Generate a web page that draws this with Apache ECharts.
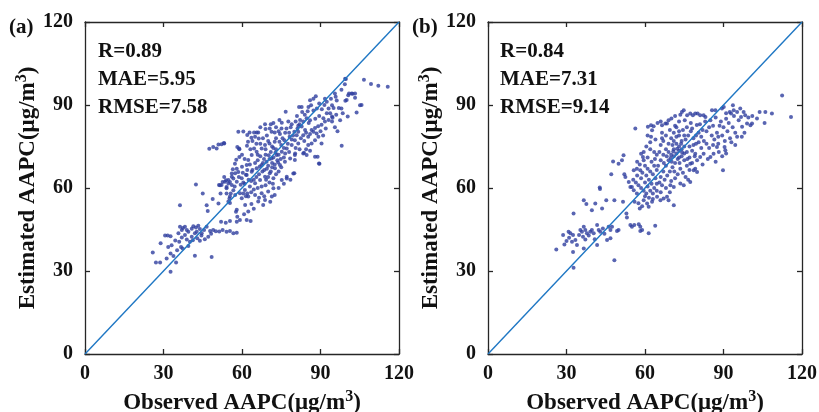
<!DOCTYPE html>
<html><head><meta charset="utf-8">
<script src="https://cdn.jsdelivr.net/npm/echarts@6/dist/echarts.min.js"></script>
<style>html,body{margin:0;padding:0;background:#fff}#c{width:819px;height:412px}</style>
</head><body><div id="c"></div>
<script>
var axisTicks = [0, 30, 60, 90, 120];
var panelLabels = ['(a)', '(b)'];
var statsA = ['R=0.89', 'MAE=5.95', 'RMSE=7.58'];
var statsB = ['R=0.84', 'MAE=7.31', 'RMSE=9.14'];
var xTitle = 'Observed AAPC(μg/m{s|3})';
var yTitle = 'Estimated AAPC(μg/m{s|3})';
var refLine = [[0, 0], [120, 120]];

var scatterA = [
[25.9,36.7],[27.1,33.1],[28.7,33.1],[28.9,40],[30.6,42.8],[31.6,42.8],[32.7,42.6],[31.2,34.5],[32.7,29.7],[31.8,38.7],[33.1,39.3],[32.7,36.3],[33.8,35.4],[34.8,33.1],[36.3,53.8],[36.3,46],[37.4,45.5],[38.2,46],[38.9,44.8],[37,44.8],[35.7,43.6],[37,42.1],[36,40.6],[36.7,38.7],[37.3,38.1],[38.2,43],[39.5,44.2],[38.9,41.4],[40.1,40.6],[39.5,39],[40.8,42.4],[41.4,46.2],[42.4,45.7],[43.3,46.4],[43.9,45.2],[42,43.6],[42.9,41.8],[43.9,40.9],[42.7,44.2],[44.6,43.6],[45.5,44.8],[46.5,46],[42,35.5],[45,58],[42.4,61.3],[46.5,53.8],[46.9,51.7],[48.8,56],[47.8,44.5],[49,44.8],[50,44.4],[47.1,42.4],[48.4,35.1],[47.5,74.2],[49,74.8],[40.8,45.3],[34.5,41],[35.2,37.5],[44.5,42.8],[45.8,41.5],[48.2,43.5],[41.2,41.1],
[51.3,44.3],[52.6,44.8],[54.1,44.2],[55.4,44.5],[56.7,43.6],[58,43.8],[52,47.8],[53.8,47.4],[55.4,48.1],[51,75.7],[52.2,75.8],[53.1,76.3],[51,54.4],[51.6,61],[52.6,62.2],[53.2,64],[53.9,62.8],[54.8,61.6],[54.1,60.4],[51.8,58],[55.4,62.2],[56.7,63.4],[56.1,65.2],[54.1,58],[55.2,56.2],[55.7,58],[56.7,59.2],[55.4,54.6],[57.3,68.8],[58,67],[58.6,65.8],[58.2,74.8],[59,74],[57.7,51.4],[58.2,49.6],[58,47.8],[59.2,48.4],[59,71.2],[58.6,80.3],[54.8,55.1],[51.2,61.1],[52.2,61.1],[53.5,62.3],[54.1,59.9],[56.1,61.1],[58,62.3],[57.4,65.3],[56.1,64.1],[54.8,62.9],[57.4,57.5],[55.4,56.9],[58,52.1],[59.2,58.1],[59.9,56.3],[53.2,76.1],[50.3,74.3],[58.9,74.3],[57.2,60.5],[59.5,61.2],[58.8,64],[56.5,66.8],[57.8,70.2],
[61.8,48.4],[63.3,48.1],[62.9,80.1],[63.6,78.2],[62.3,76.7],[61.9,75.3],[64.6,80.1],[65.6,80.1],[66.2,80.1],[68.8,83],[69,81.3],[64.6,74.3],[66.4,77.9],[70.6,81.5],[71.3,80.3],[72.5,80.1],[75.1,81.5],[74.3,84.6],[75.2,83.6],[76.7,87.6],[70.5,76.1],[68.8,75.5],[67.5,74.3],[65.6,73.1],[63.7,71.9],[62.4,70.1],[61.8,68.3],[60,67.7],[59.9,63.5],[61.8,64.7],[63.7,65.9],[65.6,67.1],[67.5,68.3],[69.4,69.5],[71.3,70.7],[73.2,71.9],[75.2,73.1],[77.1,74.3],[79,75.5],[80.3,72.5],[78.4,70.7],[76.4,69.5],[74.5,68.3],[72.6,67.1],[70.6,65.3],[68.8,64.1],[66.9,62.9],[65,61.7],[63,60.5],[61.1,59.3],[62.4,56.9],[65,57.5],[67.5,58.1],[70,58.7],[72,59.9],[66.2,55.1],[68.1,53.9],[68.8,55.7],[71.4,56.9],[80,65.3],[75.2,62.9],[77.1,64.1],[61.2,53.9],[62.4,51.5],[72.5,76.7],[74.3,76.7],[76.2,77.3],[78.2,78.5],[80,80.3],[78.6,82],[77.7,84],
[66,70],[67,71.5],[68,69],[69,72],[70,68],[70.5,70.5],[71,73],[71.5,69],[72,71],[72.5,68.5],[73,74],[73.5,70],[74,72],[68.5,66.5],[69.5,67],[70,64],[71,66],[72,63.5],[73,65],[74,66],[75,67.5],[76,71],[76.5,72.5],[77.5,76],[78,73],[79,77.5],[66.5,65],[65.5,64],[64.5,63],[63.5,62.5],[62.5,63],[61,61.5],[60.5,62],[64,66.5],[65,69],[66,72],[67,76],[68,78],[69.5,79],[70,77],[71.5,75],[73,78],[74.5,79.5],[75.5,78],[76.5,80],[78,80],[79.5,79],[67.5,60.5],[69,61],[70.5,62],[71.8,61.5],[60.5,58],[61.5,57],[63.5,58.5],[64.5,59.5],[66,60],[62,66.5],[63,68.5],[61,70.5],[60,72],[65.5,76],[64,77],[69,74],[72,74.5],[75,75.5],[76,74.5],[74,80.5],[73,82],[72,83.5],[71,83],[67,82],[77,81.5],[79,83],[80.5,84],[81.5,82.5],[60.3,65.5],[63.2,74],[66.8,67.8],[67.8,66],[70.2,71.8],[68.4,70.5],[73.8,69.2],[74.8,70.5],[69.2,63],[71.5,67.5],[72.8,72.8],[65,78.5],[62,79.2],[60.5,80.4],[63.6,54.2],[66.5,56.5],[70.8,55],[72.5,57.5],[74,60],[76,61.5],[78.5,63],[68.5,57],[64.5,52.5],[60.8,50.5],[62,58],[61.5,64.8],
[106.6,99.1],[109.3,97.6],[112.1,97],[115.7,96.6],[99.7,99.4],[99.3,97.5],[100.9,94.2],[101.9,94.2],[103.2,94.2],[103.2,92.6],[100,91.8],[105.7,90],[103.8,87.3],[100.4,85.8],[98.1,75.3],[95.5,94.2],[95.8,93],[96.2,91.6],[94,92.3],[92.4,91.2],[91.7,92.3],[88.2,93.2],[87.3,92.3],[86,91.7],[86.4,89.9],[85.4,89.3],[82.8,89.3],[81.8,89.3],[85.1,87.7],[87.3,88],[88.6,88.7],[94.4,89.9],[95,88.9],[97,88.9],[98,88.7],[93.1,88.7],[92.4,87],[93.7,87],[94.4,85.8],[93.1,84.6],[94.4,84],[94.6,85.4],[91.1,85.2],[91.7,84],[90.4,82.9],[89.1,82.3],[87.9,81.7],[86.6,81],[84.7,85.2],[83.4,84],[82.2,84.6],[82.8,82.2],[84.1,81],[81.5,80.3],[80.9,79.1],[83.4,79.1],[85.3,78.5],[87.3,80.3],[88.5,79.7],[89.2,78.5],[87.9,77.3],[86.6,76.1],[85.3,75.5],[81.5,76.1],[80.2,77.3],[90.4,76.1],[83.4,72.5],[84.7,71.9],[87.9,71.3],[88.9,71.3],[89.4,68.9],[80.2,71.9],[80.2,70.1],[89.6,68.8],[83.7,72.7],[79.6,65.2],[77.1,63.4],[99.4,99.5],[100.6,93.5],[102.3,94.1],[105.1,89.9],[89.5,90.5],[90.5,88.5],[91.5,90],[84,86.5],[83,87.5],[81,86],[82,83],[85.5,83.5],[86,84.5],[88,85],[89.5,86],[90,80.5],[92,81.5],[91,79],[84.5,80],[82.5,78],[86,79.5],[81.2,81.5],[83.8,77],[80.5,74.5],[82,74],[84.5,74],[86,73.5],[96,86.5],[97.5,84.5],[98.5,87],[95.5,82],[96.5,80.5],[99.5,91.5],[98,95.5]
];

var scatterB = [
[26.1,37.8],[28.7,43],[29.2,39.6],[30.8,44.2],[31.5,43.6],[32.5,43],[32.7,50.8],[32.7,31.2],[32.5,36.9],[33.4,41.2],[34,39.4],[32.1,40.6],[35.3,44.8],[35.9,44.2],[36.3,42.4],[37.2,44.8],[37.8,43.6],[36.6,46],[36.6,55.6],[37.6,54.2],[37.2,41.4],[36.6,38.1],[39.1,44.2],[39.7,44.8],[40.4,43.6],[39.7,52],[41,54.4],[42.7,60.2],[42.8,59.6],[41.7,46.6],[42.3,44.8],[42.9,44.2],[43.9,45.4],[41.7,39.4],[43.6,52.6],[45.2,55.6],[45.5,41.2],[46.8,41.8],[46.1,46],[46.8,44.8],[47.4,46],[47.1,65],[47.8,69.6],[48.3,55.6],[48.3,33.9],[49.3,44.5],[49.9,44.8],[49.9,68.8],[51.2,70],[51.6,55],[51.8,71.8],[52.1,65],[52.5,64],[52.9,50.8],[53.1,49.3],[53.8,62.2],[54.4,60.4],[54.4,46.6],[34.8,43],[38.5,42.8],[40.8,41.5],[44.5,43.5],[31,42],[30,40.8],
[55,46],[55.9,46.6],[57.6,46.9],[58.2,46],[58.9,44.8],[58.2,44.5],[61.4,43.6],[63.9,46.4],[55.7,66.4],[56.9,67],[58.2,66.4],[56.3,81.5],[55,60.4],[55.7,59.2],[56.9,58],[58.5,72.4],[59.5,73],[59.2,71.2],[61.1,82.1],[62.3,82.7],[62.7,80.9],[63.3,82.3],[62.3,78.5],[59.5,55.6],[60.8,54.4],[61.4,53.2],[58,52.6],[58.9,53.4],[62.7,55],[64.6,56.8],[55.5,63],[56.5,62],[57.5,61],[58.5,60],[59.5,59],[60.5,58],[57,64.5],[58.5,63.5],[60,62],[61,60.5],[62,59],[63,58],[59,65.5],[60.5,64.5],[61.5,63],[62.5,61.5],[63.5,60],[64.5,59],[60,68],[61,67],[62,66],[63,65],[64,63.5],[59.5,70],[61,71],[62.5,69.5],[63.5,68],[64.5,66.5],[60.5,75],[62,74],[63.5,73],[64.5,72],[58,68.5],[57,69.5],[60,57],[61.5,56.5],[63,56],[64.5,61.5],[56,55],[57.5,54.5],[62,76.5],[64,77.5],[61,79],[63.8,70.5],
[66.5,82.7],[67.8,83.3],[68.4,83.3],[70.1,85.1],[65.9,55.6],[67.1,56.2],[68.4,56.8],[69,55.6],[71,53.8],[69.7,61],[71,60.4],[74.8,61],[73.5,61.6],[77.3,62.2],[77.3,68.8],[78.6,66.4],[79.9,65.8],[79.2,67],[74.1,87.5],[74.8,88.1],[76.1,86.3],[77.3,86.9],[78.3,86.3],[79.2,86.9],
[65,68],[66,70],[67,72],[68,74],[69,76],[70,78],[71,80],[72,82],[73,79],[74,77],[75,75],[76,73],[77,71],[78,69],[66,64],[67,66],[68,68],[69,70],[70,72],[71,74],[72,76],[73,73.5],[74,71.5],[75,70],[76,68],[77,66.5],[65.5,62],[66.5,61],[67.5,63],[68.5,64.5],[69.5,66],[70.5,67.5],[71.5,69],[72.5,70.5],[73.5,67],[74.5,65.5],[75.5,64],[76.5,63],[70,62.5],[71.5,63.5],[72.5,65],[68,60],[66,58.5],[69.5,58.5],[67,77],[68,79],[69.5,81],[66,75.5],[65.5,73],[66.5,80],[70.5,75.5],[71,77],[72,78.5],[73,75],[74,74],[75,72.5],[73,71],[71,71.5],[69,73],[70.2,69.5],[72,72.5],[73.8,76],[75.5,77.5],[76.5,79],[77.5,80.5],[78.5,78],[79.5,76],[77,75],[78,73.5],[79,71.5],[76,82],[77.5,83.5],[74.5,81],[73,84],[71.5,82.5],[75.2,84.5],[70.8,73.2],[72.3,74.2],[74.2,72.8],[69.8,70.8],[68.3,71.5],[67.2,69],[71.2,66],[73.2,69],[76.2,70.5],[78.5,75.5],[79.5,79],[78,81.5],[79.8,82.8],[66,84],[64.8,83.5],[69,84.5],[71.5,86],[73.5,86.5],[66.5,78],[75,79],[73,80.5],
[80.1,86.9],[81.1,86.3],[82.4,86.3],[83.1,85.7],[85.6,88.1],[86.9,88.1],[89.4,88.7],[90.1,89.3],[92.4,87.5],[92.9,86.9],[93.9,88.1],[95.2,87.5],[96.4,88.7],[97.7,87.5],[98.3,86.3],[93.6,89.9],[95.8,84.5],[96.7,85.7],[97.1,82.1],[99,83.3],[100.3,82.7],[100.9,83.3],[102.8,85.1],[103.8,87.5],[106,87.5],[108.5,86.9],[105.7,83.5],[112.4,93.4],[115.8,85.7],[95.2,78.5],[94.5,75.5],[89.8,66.4],[90.4,74.8],[90.7,73.6],[87.5,74.8],[88.2,73],[86.2,72.4],[85,71.2],[81.1,71.2],[79.9,70],[79.2,72.4],[82.4,72.4],[80.5,80],[81.5,78.5],[82.5,77],[83.5,80.5],[84.5,82],[85.5,79],[86.5,77.5],[87.5,80],[88.5,82.5],[89.5,79],[90.5,77],[91.5,80.5],[92.5,78],[93.5,82],[94.5,80],[85,84.5],[87,85.5],[89,84],[91,85],[81,83],[82,81],[83.5,76],[84.5,74.5],[86,75.5],[88,76],[81.5,74.5],[80.5,76.5],[83,84],[86,82.5],[88,78.5],[90,82],[92,83.5],[94,86],[91,87],[98,80],[97,78.5],[99.5,85.5],[101,86],[93,76.5],[89.5,71.5],[84,70.5],[82,68.5],[87,69.5],[91,72.5]
];

var FONT = '"Liberation Serif","Times New Roman",serif';
var AX = '#262626';
var grids = [
  {left: 85, top: 22, width: 314, height: 332, containLabel: false, outerBoundsMode: 'none'},
  {left: 488, top: 22, width: 314, height: 332, containLabel: false, outerBoundsMode: 'none'}
];
var tickInterval = axisTicks[1] - axisTicks[0];
var axMin = axisTicks[0], axMax = axisTicks[axisTicks.length - 1];
var richSup = {
  t: {fontFamily: FONT, fontWeight: 'bold', fontSize: 23, color: '#111'},
  s: {fontFamily: FONT, fontWeight: 'bold', fontSize: 16, color: '#111', verticalAlign: 'top', padding: [0, 0, 12, 0]}
};
function mainAxis(gi, pos, isX) {
  return {
    type: 'value', gridIndex: gi, position: pos, min: axMin, max: axMax, interval: tickInterval,
    axisLine: {show: true, onZero: false, lineStyle: {color: AX, width: 1.3}},
    axisTick: {show: true, inside: true, length: 5, lineStyle: {color: AX, width: 1.3}},
    splitLine: {show: false},
    axisLabel: {show: true, fontFamily: FONT, fontWeight: 'bold', fontSize: 20, color: '#111', margin: isX ? 10 : 12},
    nameLocation: 'middle',
    name: isX ? xTitle.replace(/^(.*?)\{/, '{t|$1}{') : yTitle.replace(/^(.*?)\{/, '{t|$1}{'),
    nameGap: isX ? 33 : 42,
    nameTextStyle: {rich: richSup, fontFamily: FONT, fontWeight: 'bold', fontSize: 23, color: '#111'}
  };
}
function mirrorAxis(gi, pos) {
  return {
    type: 'value', gridIndex: gi, position: pos, min: axMin, max: axMax, interval: tickInterval,
    axisLine: {show: true, onZero: false, lineStyle: {color: AX, width: 1.3}},
    axisTick: {show: true, inside: true, length: 5, lineStyle: {color: AX, width: 1.3}},
    splitLine: {show: false}, axisLabel: {show: false}
  };
}
var xAxes = [mainAxis(0, 'bottom', true), mirrorAxis(0, 'top'), mainAxis(1, 'bottom', true), mirrorAxis(1, 'top')];
var yAxes = [mainAxis(0, 'left', false), mirrorAxis(0, 'right'), mainAxis(1, 'left', false), mirrorAxis(1, 'right')];

var statTexts = [];
[[statsA, 98], [statsB, 500]].forEach(function (p) {
  p[0].forEach(function (t, i) {
    statTexts.push({type: 'text', left: p[1], top: 41 + i * 28,
      style: {text: t, font: 'bold 21px ' + FONT, fill: '#111'}});
  });
});
statTexts.push({type: 'text', left: 9, top: 17, style: {text: panelLabels[0], font: 'bold 21px ' + FONT, fill: '#111'}});
statTexts.push({type: 'text', left: 412, top: 17, style: {text: panelLabels[1], font: 'bold 21px ' + FONT, fill: '#111'}});

var chart = echarts.init(document.getElementById('c'), null, {renderer: 'canvas'});
chart.setOption({
  animation: false,
  backgroundColor: '#fff',
  grid: grids,
  xAxis: xAxes,
  yAxis: yAxes,
  graphic: statTexts,
  series: [
    {type: 'scatter', xAxisIndex: 0, yAxisIndex: 0, data: scatterA, symbolSize: 4, itemStyle: {color: '#2f3f9f'}},
    {type: 'line', xAxisIndex: 0, yAxisIndex: 0, data: refLine, symbol: 'none', lineStyle: {color: '#1f77c4', width: 1.4}},
    {type: 'scatter', xAxisIndex: 2, yAxisIndex: 2, data: scatterB, symbolSize: 4, itemStyle: {color: '#2f3f9f'}},
    {type: 'line', xAxisIndex: 2, yAxisIndex: 2, data: refLine, symbol: 'none', lineStyle: {color: '#1f77c4', width: 1.4}}
  ]
});
</script></body></html>
